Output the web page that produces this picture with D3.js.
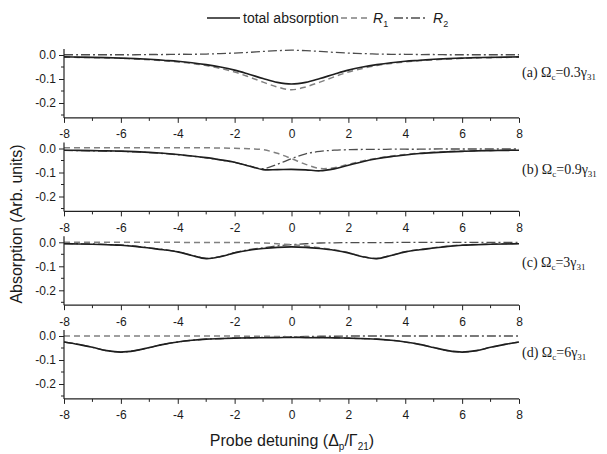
<!DOCTYPE html>
<html>
<head>
<meta charset="utf-8">
<script src="https://cdn.jsdelivr.net/npm/d3@7"></script>
<style>
  body { margin: 0; background: #fff; }
  svg { display: block; font-family: "Liberation Sans", Arial, sans-serif; }
</style>
</head>
<body>
<svg id="chart" width="607" height="454"></svg>
<script>
// ---------- data ----------
const detuning = [-8,-7.5,-7,-6.5,-6,-5.5,-5,-4.5,-4,-3.5,-3,-2.5,-2,-1.5,-1,-0.5,0,0.5,1,1.5,2,2.5,3,3.5,4,4.5,5,5.5,6,6.5,7,7.5,8];

const panelLabels = ["(a)", "(b)", "(c)", "(d)"];
const omegaValues = ["0.3", "0.9", "3", "6"];

// (a) Ωc = 0.3γ31
const totalA = [-0.008,-0.009,-0.010,-0.011,-0.013,-0.015,-0.018,-0.022,-0.026,-0.032,-0.040,-0.050,-0.063,-0.080,-0.098,-0.114,-0.121,-0.114,-0.098,-0.080,-0.063,-0.050,-0.040,-0.032,-0.026,-0.022,-0.018,-0.015,-0.013,-0.011,-0.010,-0.009,-0.008];
const r1A    = [-0.009,-0.010,-0.011,-0.012,-0.014,-0.017,-0.020,-0.024,-0.029,-0.035,-0.044,-0.056,-0.071,-0.091,-0.113,-0.133,-0.145,-0.133,-0.113,-0.091,-0.071,-0.056,-0.044,-0.035,-0.029,-0.024,-0.020,-0.017,-0.014,-0.012,-0.011,-0.010,-0.009];
const r2A    = [0.001,0.001,0.001,0.001,0.001,0.001,0.002,0.002,0.003,0.003,0.004,0.006,0.008,0.011,0.015,0.018,0.020,0.018,0.015,0.011,0.008,0.006,0.004,0.003,0.003,0.002,0.002,0.001,0.001,0.001,0.001,0.001,0.001];

// (b) Ωc = 0.9γ31
const totalB = [-0.007,-0.008,-0.009,-0.010,-0.011,-0.013,-0.016,-0.020,-0.025,-0.031,-0.038,-0.047,-0.057,-0.073,-0.088,-0.088,-0.087,-0.089,-0.093,-0.085,-0.070,-0.055,-0.043,-0.034,-0.027,-0.021,-0.017,-0.014,-0.012,-0.010,-0.009,-0.008,-0.007];
const r1B    = [0.003,0.003,0.003,0.003,0.003,0.003,0.003,0.003,0.003,0.003,0.003,0.002,0.001,-0.001,-0.005,-0.020,-0.042,-0.066,-0.083,-0.080,-0.066,-0.052,-0.041,-0.032,-0.025,-0.020,-0.016,-0.013,-0.011,-0.009,-0.008,-0.007,-0.006];
const r2B    = [-0.008,-0.009,-0.010,-0.011,-0.012,-0.014,-0.017,-0.021,-0.026,-0.032,-0.039,-0.048,-0.058,-0.072,-0.084,-0.066,-0.042,-0.022,-0.012,-0.007,-0.005,-0.004,-0.004,-0.003,-0.003,-0.003,-0.002,-0.002,-0.002,-0.002,-0.002,-0.002,-0.002];

// (c) Ωc = 3γ31
const totalC = [-0.006,-0.007,-0.008,-0.010,-0.012,-0.017,-0.024,-0.031,-0.040,-0.055,-0.068,-0.060,-0.044,-0.033,-0.026,-0.021,-0.019,-0.021,-0.026,-0.033,-0.044,-0.060,-0.068,-0.055,-0.040,-0.031,-0.024,-0.017,-0.012,-0.010,-0.008,-0.007,-0.006];
const r1C    = [0.000,0.000,0.000,0.000,0.000,0.000,0.000,0.000,0.000,-0.001,-0.001,-0.001,-0.001,-0.002,-0.003,-0.006,-0.010,-0.015,-0.023,-0.031,-0.043,-0.059,-0.067,-0.054,-0.039,-0.030,-0.023,-0.016,-0.011,-0.009,-0.007,-0.006,-0.005];
const r2C    = [-0.005,-0.006,-0.007,-0.009,-0.011,-0.016,-0.023,-0.030,-0.039,-0.054,-0.067,-0.059,-0.043,-0.031,-0.023,-0.015,-0.010,-0.006,-0.003,-0.002,-0.001,-0.001,-0.001,-0.001,0.000,0.000,0.000,0.000,0.000,0.000,0.000,0.000,0.000];

// (d) Ωc = 6γ31
const totalD = [-0.025,-0.035,-0.047,-0.061,-0.067,-0.061,-0.048,-0.035,-0.025,-0.018,-0.013,-0.011,-0.009,-0.008,-0.007,-0.007,-0.006,-0.007,-0.007,-0.008,-0.009,-0.011,-0.013,-0.018,-0.025,-0.035,-0.048,-0.061,-0.067,-0.061,-0.047,-0.035,-0.025];
const r1D    = [0.000,0.000,0.000,0.000,0.000,0.000,0.000,0.000,0.000,0.000,0.000,0.000,0.000,-0.001,-0.001,-0.002,-0.003,-0.005,-0.006,-0.007,-0.009,-0.011,-0.013,-0.018,-0.025,-0.035,-0.048,-0.061,-0.067,-0.061,-0.047,-0.035,-0.025];
const r2D    = [-0.025,-0.035,-0.047,-0.061,-0.067,-0.061,-0.048,-0.035,-0.025,-0.018,-0.013,-0.011,-0.009,-0.007,-0.006,-0.005,-0.003,-0.002,-0.001,-0.001,0.000,0.000,0.000,0.000,0.000,0.000,0.000,0.000,0.000,0.000,0.000,0.000,0.000];

const xTicks = [-8,-6,-4,-2,0,2,4,6,8];
const yTicks = [0, -0.1, -0.2];
const seriesNames = ["total absorption", "R", "R"];
const seriesSubs = ["", "1", "2"];

// ---------- layout ----------
const svg = d3.select("#chart");
const left = 64, right = 519;
const zeroY = [55, 148.5, 242.3, 336];
const labelOffset = [22, 25, 25, 21];
const yDomain = [-0.262, 0.025];
const pxPer01 = 24;
const sans = "'Liberation Sans', Arial, sans-serif";
const serif = "'Liberation Serif', 'Times New Roman', serif";

const x = d3.scaleLinear().domain([-8, 8]).range([left, right]);

const styles = [
  {stroke: "#1e1e1e", width: 1.6, dash: null},
  {stroke: "#808080", width: 1.5, dash: "6,4"},
  {stroke: "#4d4d4d", width: 1.3, dash: "9,3,2,3"}
];

const panels = [
  [totalA, r1A, r2A],
  [totalB, r1B, r2B],
  [totalC, r1C, r2C],
  [totalD, r1D, r2D]
];

panels.forEach((series, i) => {
  const y0 = zeroY[i];
  const y = d3.scaleLinear().domain(yDomain)
    .range([y0 - yDomain[0] * pxPer01 * 10, y0 - yDomain[1] * pxPer01 * 10]);
  const g = svg.append("g");
  const bottom = y(yDomain[0]);

  const line = d3.line().x((d, k) => x(detuning[k])).y(d => y(d)).curve(d3.curveCatmullRom.alpha(0.5));
  [2, 1, 0].forEach(s => {
    g.append("path")
      .datum(series[s])
      .attr("d", line)
      .attr("fill", "none")
      .attr("stroke", styles[s].stroke)
      .attr("stroke-width", styles[s].width)
      .attr("stroke-dasharray", styles[s].dash);
  });

  // left axis
  const yAx = g.append("g").attr("transform", `translate(${left},0)`)
    .call(d3.axisLeft(y).tickValues(yTicks).tickSize(5).tickPadding(3)
      .tickFormat(d => d === 0 ? "0.0" : d3.format(".1f")(d).replace("\u2212", "-")));
  yAx.attr("font-family", null).attr("font-size", null);
  yAx.selectAll(".tick text").style("font-size", "12px").style("font-family", sans).attr("fill", "#1a1a1a");
  yAx.select(".domain").attr("d", `M0,${bottom}V${y(yDomain[1])}`).attr("stroke", "#222").attr("stroke-width", 1.2);
  yAx.selectAll(".tick line").attr("stroke", "#222");
  [-0.05, -0.15, -0.25].forEach(v => {
    yAx.append("line").attr("x1", 0).attr("x2", -3).attr("y1", y(v)).attr("y2", y(v)).attr("stroke", "#222");
  });

  // bottom axis
  const xAx = g.append("g").attr("transform", `translate(0,${bottom})`)
    .call(d3.axisBottom(x).tickValues(xTicks).tickSize(5).tickPadding(7)
      .tickFormat(d => String(d)));
  xAx.attr("font-family", null).attr("font-size", null);
  xAx.selectAll(".tick text").style("font-size", "12px").style("font-family", sans).attr("fill", "#1a1a1a");
  xAx.select(".domain").attr("d", `M${left},0H${right}`).attr("stroke", "#222").attr("stroke-width", 1.2);
  xAx.selectAll(".tick line").attr("stroke", "#222");
  d3.range(-7, 8, 2).forEach(v => {
    xAx.append("line").attr("x1", x(v)).attr("x2", x(v)).attr("y1", 0).attr("y2", 3).attr("stroke", "#222");
  });

  // panel annotation
  const t = g.append("text").attr("x", 522).attr("y", y0 + labelOffset[i])
    .style("font-family", serif).style("font-size", "14px").attr("fill", "#1a1a1a");
  t.append("tspan").text(panelLabels[i] + " \u03A9");
  t.append("tspan").attr("dy", 3).style("font-size", "9px").text("c");
  t.append("tspan").attr("dy", -3).text("=" + omegaValues[i] + "\u03B3");
  t.append("tspan").attr("dy", 3).style("font-size", "9px").text("31");
});

// y axis title
svg.append("text")
  .attr("transform", "translate(22,224) rotate(-90)")
  .attr("text-anchor", "middle").style("font-size", "16px").style("font-family", sans).attr("fill", "#1a1a1a")
  .text("Absorption (Arb. units)");

// x axis title
const xt = svg.append("text").attr("x", 292).attr("y", 446)
  .attr("text-anchor", "middle").style("font-size", "16px").style("font-family", sans).attr("fill", "#1a1a1a");
xt.append("tspan").text("Probe detuning (\u0394");
xt.append("tspan").attr("dy", 4).style("font-size", "10px").text("p");
xt.append("tspan").attr("dy", -4).text("/\u0393");
xt.append("tspan").attr("dy", 4).style("font-size", "10px").text("21");
xt.append("tspan").attr("dy", -4).text(")");

// legend
const legY = 18;
const legItems = [
  {x1: 207, x2: 240, tx: 243},
  {x1: 341, x2: 370, tx: 373},
  {x1: 394, x2: 428, tx: 433}
];
legItems.forEach((it, s) => {
  svg.append("line").attr("x1", it.x1).attr("x2", it.x2).attr("y1", legY).attr("y2", legY)
    .attr("stroke", styles[s].stroke).attr("stroke-width", styles[s].width)
    .attr("stroke-dasharray", styles[s].dash);
  const t = svg.append("text").attr("x", it.tx).attr("y", legY + 5)
    .style("font-size", "14px").style("font-family", sans).attr("fill", "#1a1a1a");
  if (s === 0) {
    t.text(seriesNames[s]);
  } else {
    t.append("tspan").style("font-style", "italic").text(seriesNames[s]);
    t.append("tspan").attr("dy", 4).style("font-size", "9px").text(seriesSubs[s]);
  }
});
</script>
</body>
</html>
